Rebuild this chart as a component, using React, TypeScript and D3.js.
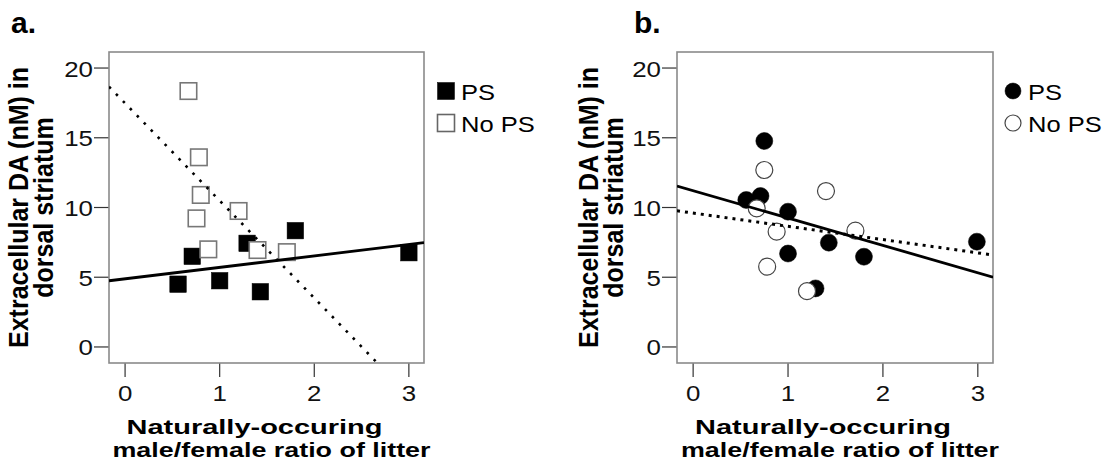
import React from "react";
import * as d3 from "d3";

// ---- Data ----
const psA_x = [0.56, 0.71, 1.0, 1.29, 1.43, 1.8, 3.0];
const psA_y = [4.5, 6.5, 4.75, 7.43, 3.96, 8.34, 6.76];
const noA_x = [0.67, 0.78, 0.8, 0.755, 0.88, 1.2, 1.4, 1.71];
const noA_y = [18.35, 13.6, 10.9, 9.22, 7.0, 9.75, 6.95, 6.8];

const psB_x = [0.75, 0.56, 0.71, 1.0, 1.0, 1.29, 1.43, 1.8, 2.99];
const psB_y = [14.77, 10.54, 10.82, 9.7, 6.7, 4.2, 7.48, 6.47, 7.55];
const noB_x = [0.75, 1.4, 0.67, 0.88, 0.78, 1.2, 1.71];
const noB_y = [12.69, 11.18, 9.94, 8.27, 5.76, 4.0, 8.34];

const xTicks = [0, 1, 2, 3];
const yTicks = [0, 5, 10, 15, 20];
const xDomain: [number, number] = [-0.17, 3.16];
const yDomain: [number, number] = [-1.15, 21.15];
const seriesNames = ["PS", "No PS"];
const yTitle = ["Extracellular DA (nM) in", "dorsal striatum"];
const xTitle = ["Naturally-occuring", "male/female ratio of litter"];
const panelLabels = ["a.", "b."];

const FONT = "'Liberation Sans', Arial, Helvetica, sans-serif";

function fit(xs: number[], ys: number[]) {
  const mx = d3.mean(xs)!;
  const my = d3.mean(ys)!;
  let sxy = 0, sxx = 0;
  xs.forEach((x, i) => {
    sxy += (x - mx) * (ys[i] - my);
    sxx += (x - mx) * (x - mx);
  });
  const b = sxy / sxx;
  return { a: my - b * mx, b };
}

type PanelProps = {
  id: string;
  left: number;
  right: number;
  shape: "square" | "circle";
  psX: number[];
  psY: number[];
  noX: number[];
  noY: number[];
  label: string;
  labelX: number;
  yTitleX: [number, number];
  legendX: number;
  openStroke: string;
  dotDash: string;
  dotWidth: number;
};

function Marker({ shape, cx, cy, filled, size, stroke }: any) {
  if (shape === "square") {
    return (
      <rect
        x={cx - size / 2}
        y={cy - size / 2}
        width={size}
        height={size}
        fill={filled ? "#000" : "#fff"}
        stroke={filled ? "#000" : stroke}
        strokeWidth={filled ? 0.5 : 1.6}
      />
    );
  }
  return (
    <circle
      cx={cx}
      cy={cy}
      r={size / 2}
      fill={filled ? "#000" : "#fff"}
      stroke={filled ? "#000" : stroke}
      strokeWidth={filled ? 0.5 : 1.2}
    />
  );
}

function Panel(p: PanelProps) {
  const top = 52;
  const bottom = 363;
  const x = d3.scaleLinear().domain(xDomain).range([p.left, p.right]);
  const y = d3.scaleLinear().domain(yDomain).range([bottom, top]);
  const fPS = fit(p.psX, p.psY);
  const fNo = fit(p.noX, p.noY);
  const fitPath = (f: { a: number; b: number }) =>
    d3.line<number>().x((d) => x(d)).y((d) => y(f.a + f.b * d))(xDomain as number[]) || "";
  const cx = (p.left + p.right) / 2;
  const cy = (top + bottom) / 2;
  const size = p.shape === "square" ? 16.5 : 17;
  return (
    <g>
      <defs>
        <clipPath id={p.id}>
          <rect x={p.left} y={top} width={p.right - p.left} height={bottom - top} />
        </clipPath>
      </defs>
      {/* panel label */}
      <text x={p.labelX} y={33} fontFamily={FONT} fontWeight="bold" fontSize={30} fill="#000">
        {p.label}
      </text>
      {/* y axis title */}
      {yTitle.map((t, i) => (
        <text
          key={t}
          transform={`translate(${p.yTitleX[i]},${cy}) rotate(-90) scale(1,1.1)`}
          textAnchor="middle"
          fontFamily={FONT}
          fontWeight="bold"
          fontSize={25}
          fill="#000"
        >
          {t}
        </text>
      ))}
      {/* x axis title */}
      {xTitle.map((t, i) => (
        <text
          key={t}
          transform={`translate(${cx + (i === 0 ? -12 : 5)},${i === 0 ? 434 : 457}) scale(${i === 0 ? 1.38 : 1.28},1)`}
          textAnchor="middle"
          fontFamily={FONT}
          fontWeight="bold"
          fontSize={21}
          fill="#000"
        >
          {t}
        </text>
      ))}
      {/* ticks */}
      {yTicks.map((t) => (
        <g key={"y" + t}>
          <line x1={p.left - 15} x2={p.left} y1={y(t)} y2={y(t)} stroke="#333" strokeWidth={1.2} />
          <text
            transform={`translate(${p.left - 16},${y(t) + 8.5}) scale(1.15,1)`}
            textAnchor="end"
            fontFamily={FONT}
            fontSize={22.5}
            fill="#111"
          >
            {t}
          </text>
        </g>
      ))}
      {xTicks.map((t) => (
        <g key={"x" + t}>
          <line x1={x(t)} x2={x(t)} y1={bottom} y2={bottom + 14} stroke="#333" strokeWidth={1.2} />
          <text
            transform={`translate(${x(t)},401) scale(1.15,1)`}
            textAnchor="middle"
            fontFamily={FONT}
            fontSize={22.5}
            fill="#111"
          >
            {t}
          </text>
        </g>
      ))}
      {/* frame */}
      <rect
        x={p.left}
        y={top}
        width={p.right - p.left}
        height={bottom - top}
        fill="none"
        stroke="#8a8a8a"
        strokeWidth={1.6}
      />
      {/* points */}
      <g clipPath={`url(#${p.id})`}>
        {p.psX.map((v, i) => (
          <Marker key={"ps" + i} shape={p.shape} cx={x(v)} cy={y(p.psY[i])} filled size={size} />
        ))}
        {p.noX.map((v, i) => (
          <Marker
            key={"no" + i}
            shape={p.shape}
            cx={x(v)}
            cy={y(p.noY[i])}
            filled={false}
            size={size}
            stroke={p.openStroke}
          />
        ))}
        <path d={fitPath(fPS)} fill="none" stroke="#000" strokeWidth={2.8} />
        <path
          d={fitPath(fNo)}
          fill="none"
          stroke="#000"
          strokeWidth={p.dotWidth}
          strokeDasharray={p.dotDash}
        />
      </g>
      {/* legend */}
      {seriesNames.map((n, i) => (
        <g key={n}>
          <Marker
            shape={p.shape}
            cx={p.legendX}
            cy={i === 0 ? 91 : 123}
            filled={i === 0}
            size={p.shape === "square" ? 17 : 16}
            stroke={p.shape === "square" ? "#666" : "#444"}
          />
          <text
            transform={`translate(${p.legendX + 15},${i === 0 ? 100 : 132}) scale(1.16,1)`}
            fontFamily={FONT}
            fontSize={22}
            fill="#000"
          >
            {n}
          </text>
        </g>
      ))}
    </g>
  );
}

export default function App() {
  return (
    <svg
      width={1104}
      height={461}
      style={{ position: "absolute", left: 0, top: 0, background: "#fff" }}
    >
      <rect x={0} y={0} width={1104} height={461} fill="#fff" />
      <Panel
        id="clipA"
        left={109}
        right={424}
        shape="square"
        psX={psA_x}
        psY={psA_y}
        noX={noA_x}
        noY={noA_y}
        label={panelLabels[0]}
        labelX={11}
        yTitleX={[28, 53]}
        legendX={446}
        openStroke="#777"
        dotDash="2.6 7.4"
        dotWidth={2.6}
      />
      <Panel
        id="clipB"
        left={677}
        right={993}
        shape="circle"
        psX={psB_x}
        psY={psB_y}
        noX={noB_x}
        noY={noB_y}
        label={panelLabels[1]}
        labelX={634}
        yTitleX={[598, 623]}
        legendX={1013}
        openStroke="#444"
        dotDash="3 5"
        dotWidth={3}
      />
    </svg>
  );
}
